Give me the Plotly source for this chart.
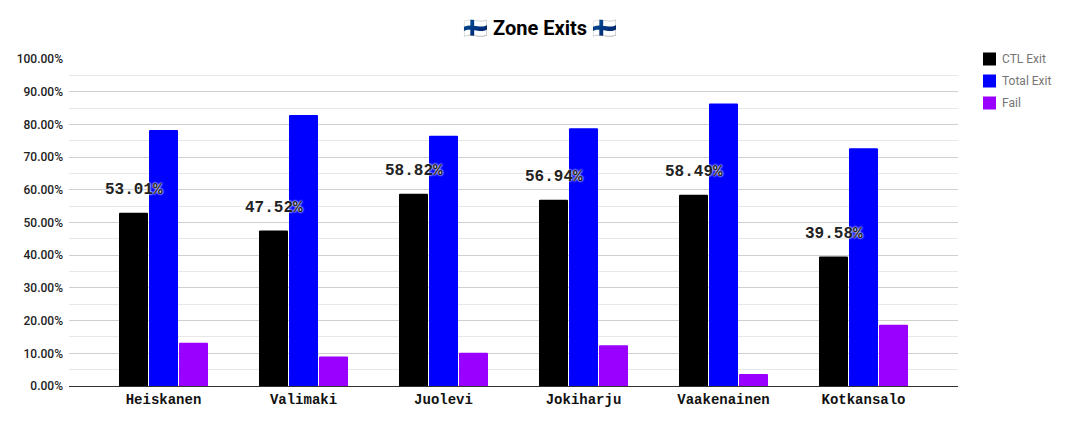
import plotly.graph_objects as go

players = ["Heiskanen", "Valimaki", "Juolevi", "Jokiharju", "Vaakenainen", "Kotkansalo"]
ctl_exit = [53.01, 47.52, 58.82, 56.94, 58.49, 39.58]
total_exit = [78.3, 82.9, 76.5, 78.8, 86.4, 72.7]
fail = [13.2, 9.0, 10.2, 12.5, 3.7, 18.7]
series_names = ["CTL Exit", "Total Exit", "Fail"]
series_colors = ["#000000", "#0000ff", "#9900ff"]
y_ticks = list(range(0, 101, 10))

fig = go.Figure()
for name, vals, col in zip(series_names, [ctl_exit, total_exit, fail], series_colors):
    fig.add_trace(go.Bar(name=name, x=players, y=vals, marker=dict(color=col, line_width=0),
                         showlegend=False))

annotations = []
for p, v in zip(players, ctl_exit):
    annotations.append(dict(x=p, y=v, xref="x", yref="y", text=f"{v:.2f}%", showarrow=False,
                            xshift=-30, yshift=23, yanchor="middle",
                            font=dict(family="Liberation Mono", size=16, color="#222222", weight="bold",
                                      shadow="0 0 2px #ffffff, 0 0 2px #ffffff")))
shapes = []
for i, (name, col) in enumerate(zip(series_names, series_colors)):
    cy = 59 + 22 * i
    shapes.append(dict(type="rect", xref="paper", yref="paper",
                       x0=(983 - 69) / 889, x1=(996 - 69) / 889,
                       y0=(386 - cy - 6.5) / 327, y1=(386 - cy + 6.5) / 327,
                       fillcolor=col, line_width=0))
    annotations.append(dict(x=(1000 - 69) / 889, y=(386 - cy) / 327, xref="paper", yref="paper",
                            xanchor="left", yanchor="middle", text=name, showarrow=False,
                            font=dict(family="Roboto", size=12, color="#757575")))

fig.update_layout(
    width=1073, height=416, autosize=False,
    margin=dict(l=61, r=123, t=51, b=38),
    paper_bgcolor="white", plot_bgcolor="white",
    barmode="group", bargap=0.357, bargroupgap=0.033, barcornerradius=1.5,
    title=dict(text="🇫🇮 <b>Zone Exits</b> 🇫🇮", x=0.4958, xanchor="center", y=0.952, yanchor="middle",
               font=dict(family="Roboto", size=20, color="#000000")),
    showlegend=False,
    annotations=annotations, shapes=shapes,
    xaxis=dict(type="category", range=[-0.675, 5.675], showgrid=False, ticks="",
               showline=False, zeroline=False, ticklabelstandoff=3, automargin=False,
               tickfont=dict(family="Liberation Mono", size=14, color="#111111", weight="bold")),
    yaxis=dict(range=[0, 100], tickmode="array", tickvals=y_ticks,
               ticktext=[f"{t:.2f}%" for t in y_ticks], ticks="", ticklabelstandoff=5, automargin=False,
               gridcolor="#d0d0d0", gridwidth=1, zeroline=True, zerolinecolor="#333333", zerolinewidth=1,
               minor=dict(tickmode="array", tickvals=list(range(5, 100, 10)), showgrid=True,
                          gridcolor="#e8e8e8", gridwidth=1),
               tickfont=dict(family="Roboto", size=12, color="#222222", weight=500)),
)
fig.write_html("out.html")
